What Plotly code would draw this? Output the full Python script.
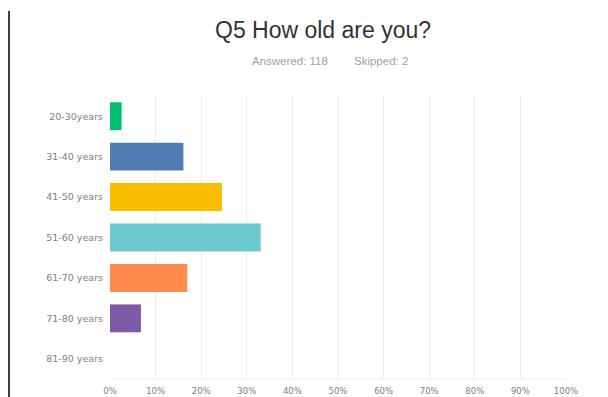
import plotly.graph_objects as go

categories = ["20-30years", "31-40 years", "41-50 years", "51-60 years",
              "61-70 years", "71-80 years", "81-90 years"]
values = [2.54, 16.10, 24.58, 33.05, 16.95, 6.78, 0.0]
colors = ["#00BF6F", "#507CB6", "#F9BE00", "#6BC8CD", "#FF8B4F", "#7D5BA6", "#D25F90"]
tick_vals = [0, 10, 20, 30, 40, 50, 60, 70, 80, 90, 100]
tick_text = ["0%", "10%", "20%", "30%", "40%", "50%", "60%", "70%", "80%", "90%", "100%"]

# page body has an 8px margin; compensate so the screen positions match
OFF = 8
W, H = 608 - OFF, 397 - OFF
L, R, T, B = 110 - OFF, 42, 96 - OFF, 18
pw, ph = W - L - R, H - T - B

fig = go.Figure(go.Bar(
    x=values, y=categories, orientation="h",
    marker=dict(color=colors, line=dict(width=0)),
    width=0.69,
))

def sx(px):  # screen px -> paper x
    return (px - OFF - L) / pw

def sy(py):  # screen px -> paper y
    return (H - B - (py - OFF)) / ph

fig.update_layout(
    width=W, height=H,
    margin=dict(l=L, r=R, t=T, b=B, autoexpand=False),
    paper_bgcolor="white", plot_bgcolor="white",
    font=dict(family="Liberation Sans, Arial, sans-serif", color="#666"),
    showlegend=False,
    xaxis=dict(range=[0, 100], tickvals=tick_vals, ticktext=tick_text,
               showgrid=True, gridcolor="#EDEDED", gridwidth=1,
               zeroline=False, showline=False, ticks="", automargin=False,
               tickfont=dict(family="DejaVu Sans", size=8.5, color="#808080"),
               ticklabelstandoff=5),
    yaxis=dict(autorange="reversed", showgrid=False, zeroline=False,
               showline=False, ticks="", automargin=False,
               tickfont=dict(family="DejaVu Sans", size=9.5, color="#808080"),
               ticklabelstandoff=6),
    annotations=[
        dict(text="Q5 How old are you?", x=sx(323), y=sy(30),
             xref="paper", yref="paper", showarrow=False,
             font=dict(size=23, color="#333"), xanchor="center", yanchor="middle"),
        dict(text="Answered: 118", x=sx(330), y=sy(61),
             xref="paper", yref="paper", showarrow=False,
             font=dict(size=11.5, color="#A0A0A0"), xanchor="right", yanchor="middle"),
        dict(text="Skipped: 2", x=sx(352), y=sy(61),
             xref="paper", yref="paper", showarrow=False,
             font=dict(size=11.5, color="#A0A0A0"), xanchor="left", yanchor="middle"),
    ],
    shapes=[
        dict(type="line", xref="paper", yref="paper",
             x0=sx(9), x1=sx(9), y0=sy(11), y1=sy(397),
             line=dict(color="black", width=1.5)),
        dict(type="line", xref="paper", yref="paper",
             x0=0, x1=1, y0=0, y1=0,
             line=dict(color="#EDEDED", width=1)),
    ],
)

fig.write_html("out.html")
